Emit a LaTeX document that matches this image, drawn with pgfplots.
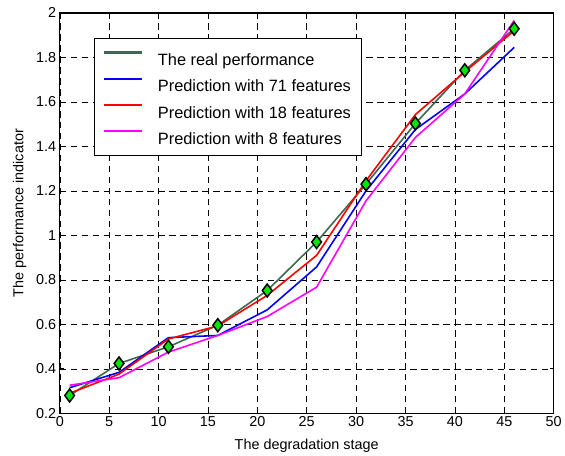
\documentclass[border=0pt]{standalone}
\usepackage{fontspec}
\setmainfont{Liberation Sans}
\usepackage{pgfplots}
\pgfplotsset{compat=1.18}
\definecolor{realgreen}{RGB}{62,104,80}
\definecolor{markgreen}{RGB}{0,230,0}
\definecolor{mblue}{RGB}{0,0,255}
\definecolor{mred}{RGB}{255,0,0}
\definecolor{mmag}{RGB}{255,0,255}
\begin{document}
\begin{tikzpicture}
\begin{axis}[
  scale only axis,
  width=496bp, height=402bp,
  xmin=0, xmax=50, ymin=0.2, ymax=2,
  xtick={0,5,...,50},
  ytick={0.2,0.4,0.6,0.8,1,1.2,1.4,1.6,1.8,2},
  /pgf/number format/assume math mode=true,
  tick label style={font=\fontsize{14.5}{16}\selectfont},
  label style={font=\fontsize{14.5}{16}\selectfont},
  xlabel={The degradation stage},
  ylabel={The performance indicator},
  xlabel style={yshift=-5bp},
  ylabel style={yshift=3bp},
  grid=major,
  major grid style={black, line width=0.5bp, dash pattern=on 6.5bp off 4.5bp},
  axis line style={black, line width=1.2bp},
  tick align=inside,
  major tick length=4bp,
  tick style={black, line width=0.6bp},
  legend style={at={(0.0685,0.937)}, anchor=north west, draw=black, line width=0.8bp,
    font=\fontsize{16.5}{19}\selectfont, row sep=6.4bp, column sep=13bp,
    inner xsep=9bp, inner ysep=9bp,
    nodes={inner sep=2bp, text height=16bp, text depth=0bp},
    cells={anchor=west}},
  legend image code/.code={\draw[#1, mark=none, line width=2.2bp] (0bp,5bp) -- (38bp,5bp);},
  legend cell align=left,
]
\addplot[realgreen, line width=1.6bp, mark=diamond*, mark size=6.5bp,
  mark options={fill=markgreen, draw=black, line width=1.5bp, solid}] coordinates {
(1,0.28) (6,0.424) (11,0.499) (16,0.596) (21,0.752) (26,0.970) (31,1.23) (36,1.503) (41,1.742) (46,1.929)};
\addplot[mblue, line width=1.6bp] coordinates {
(1,0.315) (6,0.384) (11,0.54) (16,0.55) (21,0.665) (26,0.858) (31,1.20) (36,1.476) (41,1.636) (46,1.845)};
\addplot[mred, line width=1.6bp] coordinates {
(1,0.29) (6,0.376) (11,0.534) (16,0.593) (21,0.73) (26,0.91) (31,1.245) (36,1.543) (41,1.735) (46,1.92)};
\addplot[mmag, line width=1.6bp] coordinates {
(1,0.326) (6,0.36) (11,0.475) (16,0.55) (21,0.635) (26,0.767) (31,1.155) (36,1.44) (41,1.636) (46,1.966)};
\legend{The real performance, Prediction with 71 features, Prediction with 18 features, Prediction with 8 features}
\end{axis}
\path (current axis.south west) ++(-60bp,-42bp) coordinate (bl);
\path (current axis.north east) ++(9bp,13bp) coordinate (tr);
\path (bl) rectangle (tr);
\end{tikzpicture}
\end{document}
